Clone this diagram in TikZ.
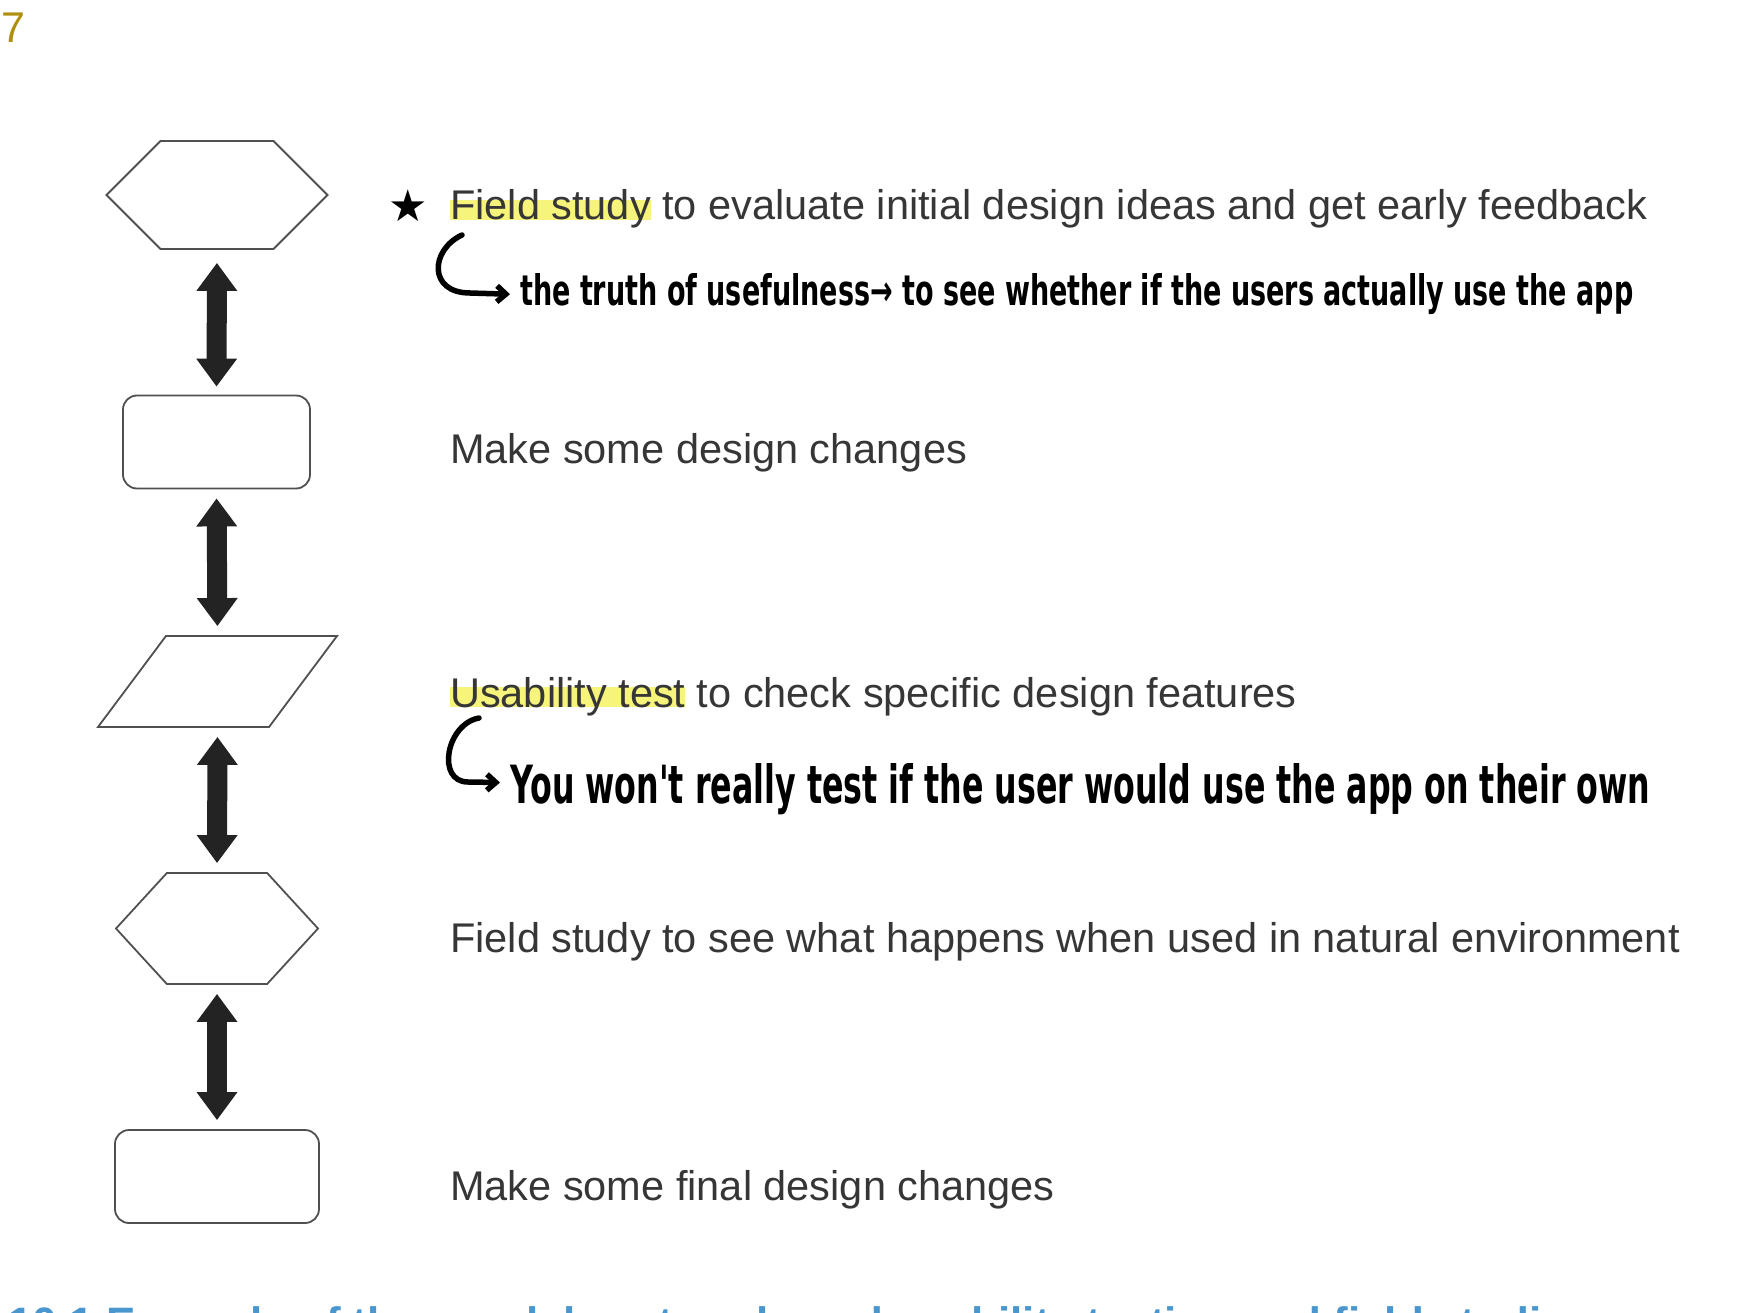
\documentclass[tikz,border=0pt]{standalone}
\usepackage{fontspec}
\setmainfont{Liberation Sans}
\newfontfamily\handfont{DejaVu Sans}
\usepackage{graphicx}
\usetikzlibrary{arrows.meta,shapes.geometric,shapes.symbols}

\definecolor{bodygray}{HTML}{363636}
\definecolor{marker}{HTML}{F6F47A}
\definecolor{pagenum}{HTML}{B08F10}
\definecolor{captionblue}{HTML}{4A96CF}
\definecolor{outline}{HTML}{505050}
\definecolor{blockarrow}{HTML}{232323}

% yellow highlighter stroke behind a few words
\newsavebox\markbox
\newcommand{\marked}[1]{\sbox\markbox{#1}\rlap{\color{marker}\rule{\wd\markbox}{0.68\ht\markbox}}\usebox\markbox}

\tikzset{
  shapeline/.style={draw=outline, line width=1.8pt, inner sep=2pt, fill=white},
  hexbox/.style={shapeline, signal, signal to=west and east},
  roundbox/.style={shapeline, rectangle, rounded corners=14pt},
  slantbox/.style={shapeline, trapezium, trapezium left angle=56.6, trapezium right angle=123.4, trapezium stretches=true},
  bothway/.style={line width=20pt, draw=blockarrow, {Triangle[length=28pt,width=39pt]}-{Triangle[length=28pt,width=39pt]}, shorten <=9pt, shorten >=9pt},
  stagetext/.style={anchor=base west, inner sep=0pt, text=bodygray, font=\fontsize{41.5}{50}\selectfont},
  handnote/.style={anchor=base west, inner sep=0pt, text=black, font=\handfont\bfseries},
  handarrow/.style={line width=5.5pt, line cap=round, line join=round, -{Straight Barb[length=9pt,width=16pt]}, shorten >=10pt},
}

\begin{document}
\begin{tikzpicture}[x=1pt,y=-1pt]
  \useasboundingbox (0,0) rectangle (1750,1313);
  \clip (0,0) rectangle (1750,1313);

  \node[anchor=base west, inner sep=0pt, text=pagenum, font=\fontsize{43}{50}\selectfont] (page) at (1,43) {7};

  % the five stages
  \node[hexbox, signal pointer angle=90, minimum width=221, minimum height=108] (hexA) at (217,195) {};
  \node[roundbox, minimum width=187, minimum height=93] (rectA) at (216.5,442) {};
  \node[slantbox, minimum width=239, minimum height=91] (paraA) at (217.5,681.5) {};
  \node[hexbox, signal pointer angle=95, minimum width=202, minimum height=111] (hexB) at (217,928.5) {};
  \node[roundbox, minimum width=204, minimum height=93] (rectB) at (217,1176.5) {};

  \draw[bothway, shorten <=13pt, shorten >=8pt] (hexA.south) -- (rectA.north);
  \draw[bothway] (rectA.south) -- (paraA.north);
  \draw[bothway] (paraA.south) -- (hexB.north);
  \draw[bothway] (hexB.south) -- (rectB.north);

  % printed text
  \node[stagetext] (fieldA) at (450,220) {\marked{Field study} to evaluate initial design ideas and get early feedback};
  \node[stagetext] (changeA) at (450,463) {Make some design changes};
  \node[stagetext] (usab) at (450,707) {\marked{Usability test} to check specific design features};
  \node[stagetext] (fieldB) at (450,952) {Field study to see what happens when used in natural environment};
  \node[stagetext] (changeB) at (450,1200) {Make some final design changes};

  \node[anchor=base west, inner sep=0pt, text=captionblue, font=\fontsize{44}{50}\selectfont\bfseries] (cap) at (8,1338)
    {10.1 Example of the way laboratory-based usability testing and field studies};

  % handwritten notes
  \node[inner sep=0pt, font=\handfont\fontsize{44}{50}\selectfont] (star) at (408,206) {★};
  \node[handnote] (noteA) at (520,306)
    {\resizebox{1113pt}{32pt}{the truth of usefulness→ to see whether if the users actually use the app}};
  \node[handnote] (noteB) at (510,803)
    {\resizebox{1140pt}{40pt}{You won't really test if the user would use the app on their own}};

  \coordinate (hookA) at (462,235);
  \coordinate (hookB) at (479,718);
  \draw[handarrow] (hookA) .. controls (430,250) and (428,293) .. (470,293) -- (noteA.west);
  \draw[handarrow] (hookB) .. controls (446,724) and (436,782) .. (468,782) -- ([yshift=6pt]noteB.west);
\end{tikzpicture}
\end{document}
